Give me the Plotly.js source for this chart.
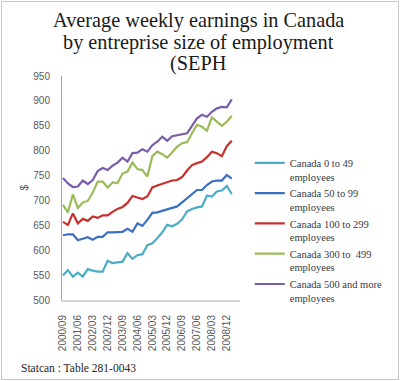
<!DOCTYPE html>
<html>
<head>
<meta charset="utf-8">
<script src="https://cdn.plot.ly/plotly-3.0.1.min.js"></script>
<style>
  html, body { margin: 0; padding: 0; background: #fff; }
  #wrap { position: relative; width: 400px; height: 381px; }
  #chart { position: absolute; left: 0; top: 0; width: 400px; height: 381px; }
  #frame { position: absolute; left: 1px; top: 1px; width: 396px; height: 377px; border: 1px solid #c6c6c6; pointer-events: none; }
</style>
</head>
<body>
<div id="wrap"><div id="chart"></div><div id="frame"></div></div>
<script>
const quarters = [
  "2000/09","2000/12","2001/03","2001/06","2001/09","2001/12","2002/03","2002/06","2002/09","2002/12",
  "2003/03","2003/06","2003/09","2003/12","2004/03","2004/06","2004/09","2004/12","2005/03","2005/06",
  "2005/09","2005/12","2006/03","2006/06","2006/09","2006/12","2007/03","2007/06","2007/09","2007/12",
  "2008/03","2008/06","2008/09","2008/12","2009/03"
];
const tickLabels = ["2000/09","2001/06","2002/03","2002/12","2003/09","2004/06","2005/03","2005/12","2006/09","2007/06","2008/03","2008/12"];

const size0to49 = [549,560,547,555,547,562,559,557,557,579,574,576,577,594,583,590,592,610,614,624,636,651,648,653,662,678,683,686,688,710,708,718,720,729,713];
const size50to99 = [630,632,632,620,623,626,621,627,627,636,636,636,637,643,637,654,649,661,675,676,679,682,685,688,696,704,713,721,721,731,738,740,740,751,744];
const size100to299 = [657,651,674,654,663,659,668,665,670,670,677,683,687,695,709,706,703,708,726,730,733,736,740,741,747,760,771,775,778,787,798,795,789,809,820];
const size300to499 = [691,676,712,685,696,699,716,738,738,726,736,735,754,758,776,763,761,748,789,798,793,786,797,808,815,817,835,852,848,840,867,858,850,858,870];
const size500plus = [745,734,727,728,740,733,741,759,765,761,770,776,786,778,795,796,803,798,811,818,828,820,829,831,833,835,850,865,872,868,878,885,888,887,903];

const seriesNames = ["Canada 0 to 49<br>employees","Canada 50 to 99<br>employees","Canada 100 to 299<br>employees","Canada 300 to  499<br>employees","Canada 500 and more<br>employees"];
const seriesValues = [size0to49, size50to99, size100to299, size300to499, size500plus];
const colors = ["#4bacc6","#3b6fc2","#c8302e","#9bbb59","#7a5ca8"];

const traces = seriesValues.map((vals, i) => ({
  type: "scatter", mode: "lines", x: quarters, y: vals, name: seriesNames[i],
  legendgroup: "g" + i,
  line: { color: colors[i], width: 2.2 },
  hoverinfo: "skip"
}));

const serif = "Liberation Serif, Times New Roman, serif";
const sans = "Liberation Sans, Arial, sans-serif";
const titleX = (208 - 62) / 190;

const layout = {
  width: 400, height: 381,
  margin: { l: 62, r: 148, t: 76, b: 81, pad: 0 },
  paper_bgcolor: "#ffffff", plot_bgcolor: "#ffffff",
  showlegend: true,
  legend: {
    x: 1.055, xanchor: "left", y: 0.672, yanchor: "top",
    font: { family: serif, size: 10.5, color: "#3a3a3a" },
    valign: "top", itemwidth: 30, tracegroupgap: 0,
    bgcolor: "rgba(0,0,0,0)"
  },
  xaxis: {
    type: "category",
    range: [-0.19, 35.66],
    tickmode: "array", tickvals: tickLabels, ticktext: tickLabels,
    tickangle: -90, ticks: "", ticklabelstandoff: 9,
    tickfont: { family: sans, size: 10, color: "#595959" },
    showgrid: false, zeroline: false,
    showline: true, linecolor: "#d4d4d4", linewidth: 2,
    fixedrange: true
  },
  yaxis: {
    range: [500, 950],
    tickvals: [500,550,600,650,700,750,800,850,900,950],
    ticks: "", ticklabelstandoff: 9,
    tickfont: { family: sans, size: 10, color: "#595959" },
    showgrid: false, zeroline: false,
    showline: true, linecolor: "#a6a6a6", linewidth: 1,
    fixedrange: true
  },
  annotations: [
    { text: "Average weekly earnings in Canada", xref: "paper", yref: "paper", x: titleX, y: 1 + (76 - 20) / 224, xanchor: "center", yanchor: "middle", showarrow: false, font: { family: serif, size: 20.3, color: "#1a1a1a" } },
    { text: "by entreprise size of employment", xref: "paper", yref: "paper", x: titleX, y: 1 + (76 - 43) / 224, xanchor: "center", yanchor: "middle", showarrow: false, font: { family: serif, size: 20.3, color: "#1a1a1a" } },
    { text: "(SEPH", xref: "paper", yref: "paper", x: titleX, y: 1 + (76 - 64) / 224, xanchor: "center", yanchor: "middle", showarrow: false, font: { family: serif, size: 20.3, color: "#1a1a1a" } },
    { text: "$", xref: "paper", yref: "paper", x: (21 - 62) / 190, y: 0.5, xanchor: "center", yanchor: "middle", textangle: -90, showarrow: false, font: { family: sans, size: 10, color: "#595959" } },
    { text: "Statcan : Table 281-0043", xref: "paper", yref: "paper", x: (16 - 62) / 190, y: (300 - 368) / 224, xanchor: "left", yanchor: "middle", showarrow: false, font: { family: serif, size: 11.5, color: "#262626" } }
  ]
};

Plotly.newPlot("chart", traces, layout, { staticPlot: true, displayModeBar: false });
</script>
</body>
</html>
